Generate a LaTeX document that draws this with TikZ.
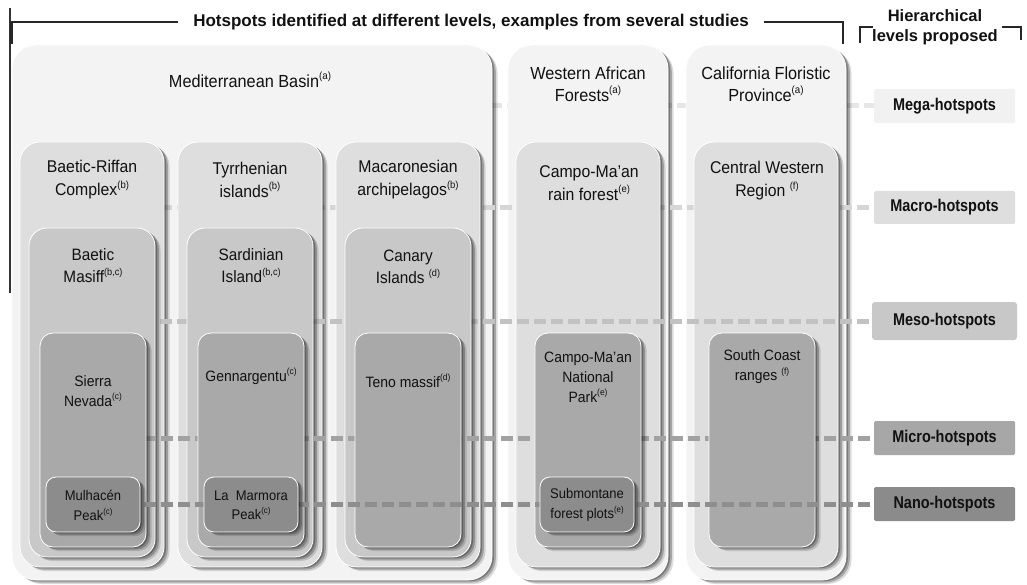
\documentclass[tikz,border=0pt]{standalone}
\usepackage{fontspec}
\setmainfont{Liberation Sans}
\newfontfamily\nfont{Liberation Sans}[FakeStretch=0.93]
\newfontfamily\lfont{Liberation Sans}[FakeStretch=0.85]
\pgfdeclarelayer{L0}\pgfdeclarelayer{L1}\pgfdeclarelayer{L2}\pgfdeclarelayer{L3}
\pgfdeclarelayer{L4}\pgfdeclarelayer{L5}\pgfdeclarelayer{L6}\pgfdeclarelayer{L7}
\pgfdeclarelayer{L8}\pgfdeclarelayer{L9}
\pgfsetlayers{L0,L1,L2,L3,L4,L5,L6,L7,L8,L9,main}
\definecolor{cmega}{HTML}{F3F3F3}
\definecolor{cmacro}{HTML}{DEDEDE}
\definecolor{cmeso}{HTML}{C8C8C8}
\definecolor{cmicro}{HTML}{A9A9A9}
\definecolor{cnano}{HTML}{8C8C8C}
\definecolor{dmegac}{HTML}{E6E6E6}
\definecolor{dmacroc}{HTML}{D6D6D6}
\definecolor{dmesoc}{HTML}{C2C2C2}
\definecolor{dmicroc}{HTML}{A2A2A2}
\definecolor{dnanoc}{HTML}{8E8E8E}
\definecolor{lmega}{HTML}{F1F1F1}
\definecolor{lmacro}{HTML}{DEDEDE}
\definecolor{lmeso}{HTML}{C8C8C8}
\definecolor{lmicro}{HTML}{A7A7A7}
\definecolor{lnano}{HTML}{8B8B8B}
\definecolor{inkc}{HTML}{111111}
\newcommand\supr[1]{\raisebox{0.45em}{\scalebox{0.6}{(#1)}}}
\tikzset{
  hbox/.style={rectangle, rounded corners=#1, inner sep=0pt, draw=white, line width=0.8pt,
    preaction={fill=black, fill opacity=0.14, transform canvas={xshift=5.5pt, yshift=-4pt}},
    preaction={fill=black, fill opacity=0.24, transform canvas={xshift=3.8pt, yshift=-2.6pt}},
    preaction={fill=black, fill opacity=0.28, transform canvas={xshift=2pt, yshift=-1.2pt}}},
  megabox/.style={hbox=24pt, fill=cmega},
  macrobox/.style={hbox=20pt, fill=cmacro},
  mesobox/.style={hbox=18pt, fill=cmeso},
  microbox/.style={hbox=13pt, fill=cmicro},
  nanobox/.style={hbox=10pt, fill=cnano},
  basetxt/.style={align=center, inner sep=0pt, text=inkc},
  megatxt/.style={basetxt, font=\nfont\fontsize{17.5}{22}\selectfont},
  macrotxt/.style={basetxt, font=\nfont\fontsize{17}{23}\selectfont},
  mesotxt/.style={basetxt, font=\nfont\fontsize{16.5}{22}\selectfont},
  microtxt/.style={basetxt, font=\nfont\fontsize{15}{20}\selectfont},
  nanotxt/.style={basetxt, font=\nfont\fontsize{14}{19.5}\selectfont},
  lbl/.style={rectangle, rounded corners=1.5pt, inner sep=0pt, text=inkc,
    font=\lfont\bfseries\fontsize{17}{20}\selectfont, minimum width=141pt, minimum height=34pt},
  dline/.style={line width=5pt, dash pattern=on 12pt off 5pt},
  brk/.style={line width=2.3pt, draw=black!85},
  thinline/.style={line width=1.2pt, draw=black!80},
  headtxt/.style={inner sep=0pt, text=inkc, font=\bfseries\fontsize{17}{20}\selectfont}
}
\begin{document}
\begin{tikzpicture}[x=1pt,y=-1pt]
\useasboundingbox (0,0) rectangle (1027,585);

% ---------- mega level ----------
\begin{pgfonlayer}{L1}
\node[megabox, minimum width=480pt, minimum height=535pt] (med) at (252,312.5) {};
\node[megabox, minimum width=160pt, minimum height=535pt] (waf) at (588,312.5) {};
\node[megabox, minimum width=160pt, minimum height=535pt] (cal) at (766,312.5) {};
\end{pgfonlayer}
\node[megatxt] (medT) at (250,80) {Mediterranean Basin\supr{a}};
\node[megatxt] (wafT) at (588,84.5) {Western African\\Forests\supr{a}};
\node[megatxt] (calT) at (766,84.5) {California Floristic\\Province\supr{a}};

% ---------- macro level ----------
\begin{pgfonlayer}{L3}
\node[macrobox, minimum width=144pt, minimum height=425pt] (br) at (92,354.5) {};
\node[macrobox, minimum width=144pt, minimum height=425pt] (ty) at (250,354.5) {};
\node[macrobox, minimum width=144pt, minimum height=425pt] (ma) at (408,354.5) {};
\node[macrobox, minimum width=144pt, minimum height=425pt] (rf) at (588,354.5) {};
\node[macrobox, minimum width=144pt, minimum height=425pt] (cw) at (766,354.5) {};
\end{pgfonlayer}
\node[macrotxt] (brT) at (92,180) {Baetic-Riffan\\Complex\supr{b}};
\node[macrotxt] (tyT) at (250,180) {Tyrrhenian\\islands\supr{b}};
\node[macrotxt] (maT) at (408,180) {Macaronesian\\archipelagos\supr{b}};
\node[macrotxt] (rfT) at (589,183) {Campo-Ma’an\\rain forest\supr{e}};
\node[macrotxt] (cwT) at (767,181) {Central Western\\Region \supr{f}};

% ---------- meso level ----------
\begin{pgfonlayer}{L5}
\node[mesobox, minimum width=126pt, minimum height=329pt] (bm) at (92,392.5) {};
\node[mesobox, minimum width=126pt, minimum height=329pt] (si) at (250,392.5) {};
\node[mesobox, minimum width=126pt, minimum height=329pt] (ci) at (408,392.5) {};
\end{pgfonlayer}
\node[mesotxt] (bmT) at (93,266) {Baetic\\Masiff\supr{b,c}};
\node[mesotxt] (siT) at (251,266) {Sardinian\\Island\supr{b,c}};
\node[mesotxt] (ciT) at (408,267) {Canary\\Islands \supr{d}};

% ---------- micro level ----------
\begin{pgfonlayer}{L7}
\node[microbox, minimum width=106pt, minimum height=214pt] (sn) at (93,440) {};
\node[microbox, minimum width=106pt, minimum height=214pt] (gen) at (251,440) {};
\node[microbox, minimum width=106pt, minimum height=214pt] (teno) at (408,440) {};
\node[microbox, minimum width=106pt, minimum height=214pt] (cp) at (588,440) {};
\node[microbox, minimum width=106pt, minimum height=214pt] (sc) at (762,440) {};
\end{pgfonlayer}
\node[microtxt] (snT) at (93,391) {Sierra\\Nevada\supr{c}};
\node[microtxt] (genT) at (251,376) {Gennargentu\supr{c}};
\node[microtxt] (tenoT) at (408,381) {Teno massif\supr{d}};
\node[microtxt] (cpT) at (588,377) {Campo-Ma’an\\National\\Park\supr{e}};
\node[microtxt] (scT) at (762,367) {South Coast\\ranges \supr{f}};

% ---------- nano level ----------
\begin{pgfonlayer}{L9}
\node[nanobox, minimum width=94pt, minimum height=55pt] (mp) at (93,504.5) {};
\node[nanobox, minimum width=94pt, minimum height=55pt] (lm) at (251,504.5) {};
\node[nanobox, minimum width=94pt, minimum height=55pt] (sf) at (587,504.5) {};
\end{pgfonlayer}
\node[nanotxt] (mpT) at (93,505.5) {Mulhacén\\Peak\supr{c}};
\node[nanotxt] (lmT) at (251,505) {La\ \ Marmora\\Peak\supr{c}};
\node[nanotxt] (sfT) at (587,505) {Submontane\\forest plots\supr{e}};

% ---------- level labels ----------
\node[lbl, fill=lmega] (megaL) at (944.5,106) {Mega-hotspots};
\node[lbl, fill=lmacro, minimum height=33pt] (macroL) at (944.5,207.5) {Macro-hotspots};
\node[lbl, fill=lmeso, minimum width=145pt, minimum height=38pt, rounded corners=3pt] (mesoL) at (944.5,321) {Meso-hotspots};
\node[lbl, fill=lmicro] (microL) at (944.5,438) {Micro-hotspots};
\node[lbl, fill=lnano] (nanoL) at (944.5,504) {Nano-hotspots};

% ---------- dashed level lines (behind their own level) ----------
\begin{pgfonlayer}{L0}
\draw[dline, draw=dmegac] (med.center |- megaL.west) -- (megaL.west);
\end{pgfonlayer}
\begin{pgfonlayer}{L2}
\draw[dline, draw=dmacroc] (br.center |- macroL.west) -- (macroL.west);
\end{pgfonlayer}
\begin{pgfonlayer}{L4}
\draw[dline, draw=dmesoc] (bm.center |- mesoL.west) -- (mesoL.west);
\end{pgfonlayer}
\begin{pgfonlayer}{L6}
\draw[dline, draw=dmicroc] (sn.center |- microL.west) -- (microL.west);
\end{pgfonlayer}
\begin{pgfonlayer}{L8}
\draw[dline, draw=dnanoc] (mp.center |- nanoL.west) -- (nanoL.west);
\end{pgfonlayer}

% ---------- headings and brackets ----------
\coordinate (vlTop) at (10,8);
\coordinate (vlBot) at (10,293);
\draw[thinline] (vlTop) -- (vlBot);
\node[headtxt, inner xsep=15pt] (title) at (471,22) {Hotspots identified at different levels, examples from several studies};
\coordinate (tlA) at (11.5,44);
\coordinate (trA) at (843,44);
\draw[brk] (tlA) |- (title.west);
\draw[brk] (title.east) -| (trA);
\node[headtxt, align=center, font=\bfseries\fontsize{16.5}{20}\selectfont] (hier) at (935,27) {Hierarchical\\levels proposed};
\coordinate (hl1) at (860,43);
\coordinate (hl2) at (873,27);
\coordinate (hr1) at (1002,27);
\coordinate (hr2) at (1021,40);
\draw[brk] (hl1) |- (hl2);
\draw[brk] (hr1) -| (hr2);
\end{tikzpicture}
\end{document}
